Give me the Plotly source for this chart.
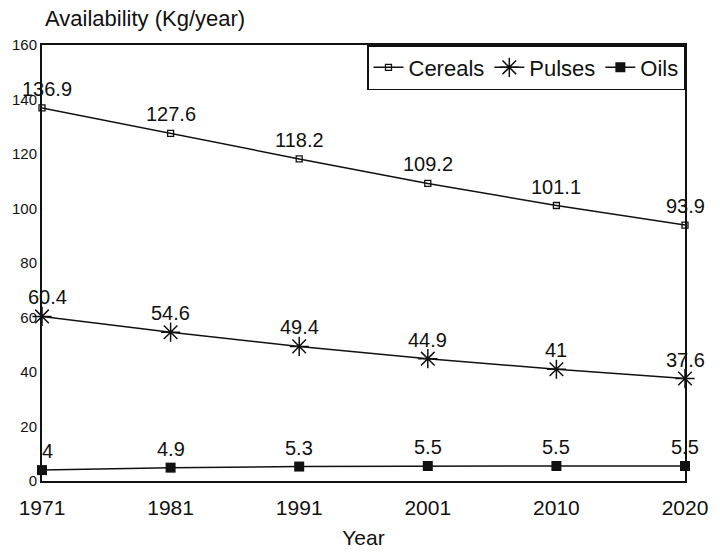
import plotly.graph_objects as go

years = ["1971", "1981", "1991", "2001", "2010", "2020"]
cereals = [136.9, 127.6, 118.2, 109.2, 101.1, 93.9]
pulses = [60.4, 54.6, 49.4, 44.9, 41, 37.6]
oils = [4, 4.9, 5.3, 5.5, 5.5, 5.5]
y_ticks = [0, 20, 40, 60, 80, 100, 120, 140, 160]

FONT = "Liberation Sans, Arial, sans-serif"
BLACK = "#111111"

W, H = 720, 558

fig = go.Figure()
fig.add_trace(go.Scatter(
    x=years, y=cereals, name="Cereals", mode="lines+markers",
    line=dict(color=BLACK, width=1.5),
    marker=dict(symbol="square-open", size=6, color=BLACK, line=dict(width=1.3, color=BLACK)),
    cliponaxis=False))
fig.add_trace(go.Scatter(
    x=years, y=pulses, name="Pulses", mode="lines+markers",
    line=dict(color=BLACK, width=1.5),
    marker=dict(symbol="asterisk-open", size=16, color=BLACK, line=dict(width=1.5, color=BLACK)),
    cliponaxis=False))
fig.add_trace(go.Scatter(
    x=years, y=oils, name="Oils", mode="lines+markers",
    line=dict(color=BLACK, width=1.5),
    marker=dict(symbol="square", size=10, color=BLACK),
    cliponaxis=False))


def fmt(v):
    return "%g" % v


# data labels: category axis positions are given by category index
for series in (cereals, pulses, oils):
    for i, v in enumerate(series):
        fig.add_annotation(x=i, y=v, xref="x", yref="y", text=fmt(v), showarrow=False,
                           yshift=19, xshift=5 if i == 0 else 0,
                           font=dict(size=20, color=BLACK, family=FONT))

fig.update_layout(
    width=W, height=H,
    margin=dict(l=41, r=25, t=45, b=72),
    paper_bgcolor="white", plot_bgcolor="white",
    font=dict(family=FONT, color=BLACK),
    showlegend=True,
    legend=dict(
        orientation="h", x=1, y=1, xanchor="right", yanchor="top",
        bordercolor=BLACK, borderwidth=1.5, bgcolor="white",
        font=dict(size=22, color=BLACK, family=FONT),
        itemwidth=30, traceorder="normal",
    ),
    title=dict(text="Availability (Kg/year)", x=45 / W, xref="container",
               y=1 - 18 / H, yref="container", xanchor="left", yanchor="middle",
               font=dict(size=22, color=BLACK, family=FONT)),
)
fig.update_xaxes(
    type="category", range=[0, 5], showgrid=False, zeroline=False,
    showline=True, linecolor=BLACK, linewidth=2, mirror=True,
    ticks="", tickfont=dict(size=21, color=BLACK, family=FONT),
    ticklabelstandoff=7,
    title=dict(text="Year", font=dict(size=21, color=BLACK, family=FONT), standoff=12),
)
fig.update_yaxes(
    range=[0, 160], tickvals=y_ticks, showgrid=False, zeroline=False,
    showline=True, linecolor=BLACK, linewidth=2, mirror=True,
    ticks="", tickfont=dict(size=15, color=BLACK, family=FONT),
)

# remove the default page margin so the figure fills the window exactly
fig.write_html("out.html",
               config={"displayModeBar": False},
               post_script="document.body.style.margin='0';document.body.style.overflow='hidden';")
